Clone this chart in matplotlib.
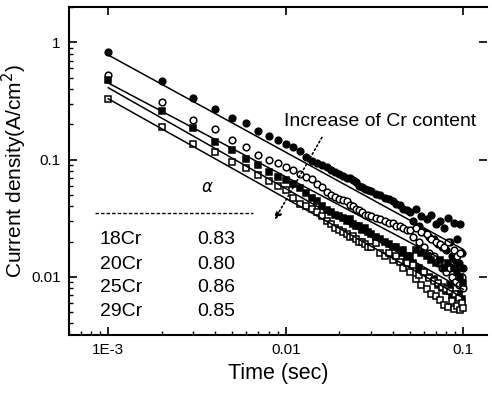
import numpy as np
import matplotlib
matplotlib.use("Agg")
import matplotlib.pyplot as plt
from matplotlib.ticker import FixedLocator, FixedFormatter, LogLocator, NullFormatter

plt.rcParams['font.family'] = ['Liberation Sans', 'DejaVu Sans']

# time in ms (sampled every 1 ms early on, thinned in the dense tail)
t_ms = list(range(1, 31)) + list(range(32, 101, 2))

cr18 = [0.82, 0.466, 0.334, 0.269, 0.225, 0.205, 0.175, 0.160, 0.147, 0.135,
        0.128, 0.118, 0.105, 0.097, 0.093, 0.090, 0.086, 0.081, 0.079, 0.076,
        0.072, 0.070, 0.069, 0.067, 0.064, 0.060, 0.058, 0.056, 0.055, 0.054,
        0.051, 0.050, 0.047, 0.046, 0.044, 0.042, 0.041, 0.038, 0.037,
        0.036, 0.030, 0.038, 0.027, 0.033, 0.024, 0.031, 0.022, 0.034, 0.021,
        0.028, 0.019, 0.030, 0.018, 0.026, 0.017, 0.032, 0.020, 0.015, 0.029,
        0.014, 0.021, 0.013, 0.028, 0.016, 0.012]
cr20 = [0.53, 0.31, 0.217, 0.182, 0.147, 0.128, 0.109, 0.099, 0.093, 0.086,
        0.081, 0.075, 0.071, 0.068, 0.062, 0.058, 0.053, 0.050, 0.048, 0.046,
        0.045, 0.044, 0.041, 0.040, 0.038, 0.037, 0.036, 0.034, 0.034, 0.033,
        0.032, 0.031, 0.030, 0.029, 0.029, 0.027, 0.027, 0.026, 0.025,
        0.025, 0.022, 0.026, 0.020, 0.024, 0.018, 0.023, 0.016, 0.021, 0.015,
        0.020, 0.013, 0.019, 0.012, 0.018, 0.011, 0.020, 0.012, 0.010, 0.017,
        0.009, 0.015, 0.0085, 0.016, 0.010, 0.008]
cr25 = [0.48, 0.259, 0.185, 0.141, 0.120, 0.101, 0.090, 0.079, 0.071, 0.067,
        0.062, 0.057, 0.052, 0.047, 0.044, 0.040, 0.037, 0.036, 0.034, 0.033,
        0.032, 0.030, 0.031, 0.028, 0.027, 0.027, 0.025, 0.026, 0.024, 0.023,
        0.022, 0.021, 0.020, 0.019, 0.018, 0.018, 0.016, 0.017, 0.015,
        0.015, 0.013, 0.017, 0.012, 0.016, 0.011, 0.015, 0.010, 0.014, 0.0095,
        0.013, 0.0085, 0.014, 0.008, 0.012, 0.0075, 0.013, 0.0085, 0.007, 0.012,
        0.0068, 0.011, 0.0072, 0.010, 0.0065, 0.0088]
cr29 = [0.327, 0.189, 0.135, 0.116, 0.095, 0.085, 0.074, 0.066, 0.060, 0.055,
        0.047, 0.042, 0.040, 0.038, 0.036, 0.033, 0.030, 0.028, 0.026, 0.025,
        0.024, 0.023, 0.022, 0.0225, 0.021, 0.020, 0.020, 0.019, 0.018, 0.018,
        0.0195, 0.016, 0.015, 0.016, 0.014, 0.015, 0.0135, 0.012, 0.013,
        0.011, 0.0125, 0.0095, 0.0104, 0.0085, 0.011, 0.0078, 0.0098, 0.0072,
        0.0092, 0.0068, 0.0088, 0.0064, 0.0082, 0.0058, 0.0078, 0.0055, 0.0075,
        0.0062, 0.0053, 0.0072, 0.0056, 0.0066, 0.0052, 0.0060, 0.0054]

# fitted power-law lines: value at t=1E-3 and at t=0.1
fit_t = [0.001, 0.1]
fit18 = [0.78, 0.0171]
fit20 = [0.45, 0.0113]
fit25 = [0.41, 0.0078]
fit29 = [0.33, 0.0066]

names = ['18Cr', '20Cr', '25Cr', '29Cr']
alphas = ['0.83', '0.80', '0.86', '0.85']

t = np.array(t_ms) / 1000.0

fig = plt.figure(figsize=(4.92, 3.93), dpi=100)
ax = fig.add_axes([0.140, 0.148, 0.850, 0.834])

ms = 4.8
ax.plot(t, cr18, 'o', ms=ms, mfc='black', mec='black', mew=1.1)
ax.plot(t, cr20, 'o', ms=ms, mfc='white', mec='black', mew=1.1)
ax.plot(t, cr25, 's', ms=ms, mfc='black', mec='black', mew=1.1)
ax.plot(t, cr29, 's', ms=ms, mfc='white', mec='black', mew=1.1)
for f in [fit18, fit20, fit25, fit29]:
    ax.plot(fit_t, f, '-', color='black', lw=1.1)

ax.set_xscale('log')
ax.set_yscale('log')
ax.set_xlim(6.0e-4, 0.136)
ax.set_ylim(0.0032, 2.0)

ax.xaxis.set_major_locator(FixedLocator([0.001, 0.01, 0.1]))
ax.xaxis.set_major_formatter(FixedFormatter(['1E-3', '0.01', '0.1']))
ax.yaxis.set_major_locator(FixedLocator([0.01, 0.1, 1]))
ax.yaxis.set_major_formatter(FixedFormatter(['0.01', '0.1', '1']))
ax.xaxis.set_minor_locator(LogLocator(base=10, subs=np.arange(2, 10)))
ax.yaxis.set_minor_locator(LogLocator(base=10, subs=np.arange(2, 10)))
ax.xaxis.set_minor_formatter(NullFormatter())
ax.yaxis.set_minor_formatter(NullFormatter())

ax.tick_params(which='major', direction='in', length=6, width=1.2,
               top=True, right=True, labelsize=11, pad=6)
ax.tick_params(which='minor', direction='in', length=3, width=1.0,
               top=False, right=False)
for s in ['left', 'bottom', 'top']:
    ax.spines[s].set_linewidth(1.5)
ax.spines['right'].set_visible(False)

ax.set_xlabel('Time (sec)', fontsize=15.5, labelpad=4)
ax.set_ylabel('Current density(A/cm$^2$)', fontsize=15)
ax.yaxis.set_label_coords(-0.095, 0.50)

ax.annotate('', xy=(0.00851, 0.0294), xytext=(0.01626, 0.162),
            arrowprops=dict(arrowstyle='-|>', linestyle=':', color='black',
                            lw=1.2, mutation_scale=10))
ax.text(0.0098, 0.21, 'Increase of Cr content', fontsize=14, ha='left', va='center')

# alpha table
ax.text(0.330, 0.448, r'$\alpha$', transform=ax.transAxes, fontsize=12,
        ha='center', va='center')
ax.plot([0.062, 0.440], [0.372, 0.372], transform=ax.transAxes,
        ls=(0, (2.5, 1.5)), color='black', lw=1.0)
rows_y = [0.290, 0.216, 0.143, 0.070]
for n, a, yy in zip(names, alphas, rows_y):
    ax.text(0.074, yy, n, transform=ax.transAxes, fontsize=14, ha='left', va='center')
    ax.text(0.306, yy, a, transform=ax.transAxes, fontsize=14, ha='left', va='center')

fig.savefig('out.png', dpi=100)
